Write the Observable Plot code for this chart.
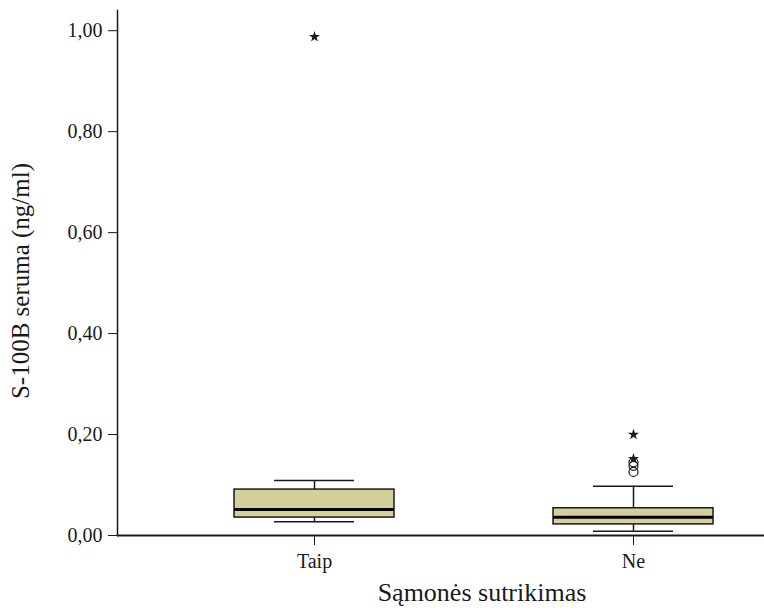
<!DOCTYPE html>
<html>
<head>
<meta charset="utf-8">
<script src="https://cdn.jsdelivr.net/npm/d3@7"></script>
<script src="https://cdn.jsdelivr.net/npm/@observablehq/plot@0.6"></script>
<style>
body { margin: 0; background: #fff; }
#chart svg { display: block; }
#chart svg, #chart svg text { font-family: "Liberation Serif", "Times New Roman", "DejaVu Serif", serif !important; }
</style>
</head>
<body>
<div id="chart"></div>
<script>
const groups = ["Taip", "Ne"];
const whiskerLow = [0.027, 0.0085];
const q1 = [0.0355, 0.022];
const median = [0.0515, 0.036];
const q3 = [0.091, 0.054];
const whiskerHigh = [0.109, 0.0975];
const extremeGroup = ["Taip", "Ne", "Ne"];
const extremeValue = [0.988, 0.200, 0.152];
const outlierGroup = ["Ne", "Ne", "Ne"];
const outlierValue = [0.145, 0.138, 0.126];
const yTicks = [0, 0.2, 0.4, 0.6, 0.8, 1.0];

const boxes = groups.map((g, i) => ({
  group: g, lo: whiskerLow[i], q1: q1[i], med: median[i], q3: q3[i], hi: whiskerHigh[i]
}));
const extremes = extremeGroup.map((g, i) => ({group: g, value: extremeValue[i]}));
const outliers = outlierGroup.map((g, i) => ({group: g, value: outlierValue[i]}));

const fmt = d => d.toFixed(2).replace(".", ",");
const ink = "#1a1a1a";

const chart = Plot.plot({
  width: 764,
  height: 612,
  marginLeft: 117,
  marginRight: 0,
  marginTop: 10,
  marginBottom: 77,
  style: {fontSize: "20px", color: ink, background: "#fff"},
  x: {type: "band", domain: groups, paddingInner: 0.5, paddingOuter: 0.261, align: 0.695},
  y: {domain: [0, 1.04]},
  marks: [
    Plot.frame({anchor: "left", stroke: ink, strokeWidth: 1.5}),
    Plot.ruleY([0], {stroke: ink, strokeWidth: 2}),
    Plot.axisY({ticks: yTicks, tickFormat: fmt, tickSize: 9, tickPadding: 6, label: null, stroke: ink, fontSize: 20}),
    Plot.axisX({tickSize: 10, tickPadding: 8, label: null, stroke: ink, fontSize: 20}),
    // whiskers
    Plot.ruleX(boxes, {x: "group", y1: "q3", y2: "hi", stroke: ink, strokeWidth: 1.5}),
    Plot.ruleX(boxes, {x: "group", y1: "lo", y2: "q1", stroke: ink, strokeWidth: 1.5}),
    Plot.tickY(boxes, {x: "group", y: "hi", stroke: ink, strokeWidth: 1.5, insetLeft: 40, insetRight: 40}),
    Plot.tickY(boxes, {x: "group", y: "lo", stroke: ink, strokeWidth: 1.5, insetLeft: 40, insetRight: 40}),
    // boxes
    Plot.barY(boxes, {x: "group", y1: "q1", y2: "q3", fill: "#d5cf99", stroke: ink, strokeWidth: 1.5}),
    Plot.tickY(boxes, {x: "group", y: "med", stroke: "#000", strokeWidth: 3}),
    // outliers
    Plot.dot(outliers, {x: "group", y: "value", r: 4.5, stroke: ink, strokeWidth: 1.2, fill: "none"}),
    Plot.dot(extremes, {x: "group", y: "value", symbol: "star", r: 3.5, fill: ink, stroke: "none"}),
    // axis titles
    Plot.text(["S-100B seruma (ng/ml)"], {frameAnchor: "left", textAnchor: "middle", rotate: -90, dx: -97, dy: 8, fontSize: 25, fill: ink}),
    Plot.text(["Sąmonės sutrikimas"], {frameAnchor: "bottom", dx: 41, dy: 65, fontSize: 26, fill: ink})
  ]
});
document.getElementById("chart").appendChild(chart);
</script>
</body>
</html>
